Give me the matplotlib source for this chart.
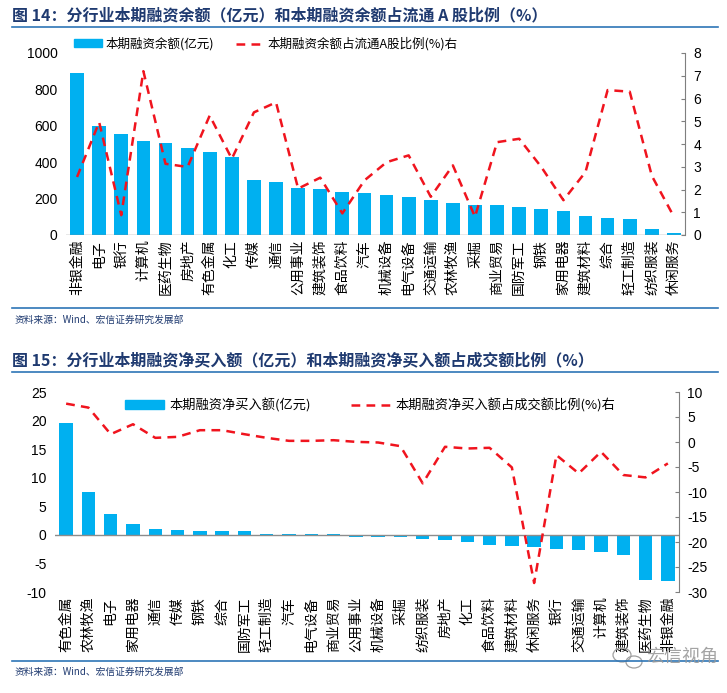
import numpy as np
import matplotlib
matplotlib.use('Agg')
import matplotlib.pyplot as plt
from matplotlib.patches import Patch, Ellipse
from matplotlib.lines import Line2D

plt.rcParams['font.family'] = ['Noto Sans CJK SC', 'DejaVu Sans']
plt.rcParams['axes.unicode_minus'] = False

# ------------------------------------------------------------------
# figure 14 data
cats1 = ['非银金融', '电子', '银行', '计算机', '医药生物', '房地产', '有色金属', '化工',
         '传媒', '通信', '公用事业', '建筑装饰', '食品饮料', '汽车', '机械设备', '电气设备',
         '交通运输', '农林牧渔', '采掘', '商业贸易', '国防军工', '钢铁', '家用电器',
         '建筑材料', '综合', '轻工制造', '纺织服装', '休闲服务']
bal1 = [892, 599, 555, 516, 505, 478, 456, 429, 302, 291, 258, 253, 236, 231,
        220, 209, 192, 176, 165, 165, 154, 143, 132, 104, 93, 88, 33, 11]
pct1 = [2.55, 4.96, 0.87, 7.2, 3.13, 2.99, 5.25, 3.35, 5.39, 5.83, 2.04, 2.52, 0.95, 2.4,
        3.2, 3.5, 1.68, 3.06, 0.8, 4.08, 4.23, 2.99, 1.53, 2.77, 6.37, 6.3, 2.6, 0.8]

# figure 15 data
cats2 = ['有色金属', '农林牧渔', '电子', '家用电器', '通信', '传媒', '钢铁', '综合',
         '国防军工', '轻工制造', '汽车', '电气设备', '商业贸易', '公用事业', '机械设备',
         '采掘', '纺织服装', '房地产', '化工', '食品饮料', '建筑材料', '休闲服务', '银行',
         '交通运输', '计算机', '建筑装饰', '医药生物', '非银金融']
buy2 = [19.6, 7.5, 3.66, 1.92, 1.05, 0.87, 0.7, 0.7, 0.7, 0.2, 0.2, 0.18, 0.18, -0.3,
        -0.3, -0.35, -0.64, -0.87, -1.2, -1.7, -2.0, -2.2, -2.4, -2.7, -3.05, -3.6, -7.97, -8.14]
pct2 = [7.67, 6.88, 1.56, 3.55, 0.83, 1.03, 2.36, 2.36, 1.56, 0.83, 0.23, 0.23, 0.36, 0.03,
        -0.1, -0.83, -8.27, -0.96, -1.3, -1.16, -5.08, -28.2, -2.62, -6.28, -1.96, -6.6,
        -7.08, -4.28]

title1 = '图 14：分行业本期融资余额（亿元）和本期融资余额占流通 A 股比例（%）'
title2 = '图 15：分行业本期融资净买入额（亿元）和本期融资净买入额占成交额比例（%）'
leg1 = ['本期融资余额(亿元)', '本期融资余额占流通A股比例(%)右']
leg2 = ['本期融资净买入额(亿元)', '本期融资净买入额占成交额比例(%)右']
source = '资料来源：Wind、宏信证券研究发展部'
mark = '宏信视角'

# ------------------------------------------------------------------
W, H = 727.0, 693.0
BLUE = '#00B0F0'
RED = '#F0141E'
TCOL = '#1F3A70'
LCOL = '#2E75B6'
NUMFONT = ['Liberation Sans', 'Noto Sans CJK SC']

fig = plt.figure(figsize=(W / 100, H / 100), dpi=100)


def fx(px):
  return px / W


def fy(py):
  return 1 - py / H


def header(ytxt, yline, text):
  fig.text(fx(12), fy(ytxt), text, fontsize=11.5, fontweight='bold', color=TCOL,
           va='center', ha='left')
  fig.add_artist(Line2D([fx(12), fx(718)], [fy(yline), fy(yline)], color=LCOL, lw=1.2))


def footer(yline, ytxt):
  fig.add_artist(Line2D([fx(12), fx(718)], [fy(yline), fy(yline)], color=LCOL, lw=1.2))
  fig.text(fx(15), fy(ytxt), source, fontsize=7, color=TCOL, va='center', ha='left')


def style_axes(ax, ax2):
  for s in ['top', 'left', 'right', 'bottom']:
    ax.spines[s].set_visible(False)
  for s in ['top', 'left', 'bottom']:
    ax2.spines[s].set_visible(False)
  ax2.spines['right'].set_color('#7F7F7F')
  ax2.spines['right'].set_linewidth(0.8)
  ax.tick_params(axis='y', length=0, labelsize=10, pad=6)
  ax.tick_params(axis='x', length=0, labelsize=10)
  ax2.tick_params(axis='y', direction='in', length=3, color='#7F7F7F', labelsize=10, pad=6)
  for lab in ax.get_yticklabels() + ax2.get_yticklabels():
    lab.set_family(NUMFONT)


# ------------------------------------------------------------------
# figure 14
header(15, 27, title1)

x1 = np.arange(len(cats1))
ax1 = fig.add_axes([fx(66), fy(235), fx(685) - fx(66), (235 - 53) / H])
ax1.bar(x1, bal1, width=0.62, color=BLUE, zorder=2)
ax1.axhline(0, color='#8C8C8C', lw=1.0, zorder=3)
ax1.set_xlim(-0.5, len(cats1) - 0.5)
ax1.set_ylim(0, 1000)
ax1.set_yticks(range(0, 1001, 200))
ax1.set_xticks(x1)
ax1.set_xticklabels(cats1, rotation=90, va='top', ha='center')
ax1b = ax1.twinx()
ax1b.plot(x1, pct1, color=RED, lw=1.8, dashes=(3.5, 2.5), zorder=4)
ax1b.set_ylim(0, 8)
ax1b.set_yticks(range(0, 9))
style_axes(ax1, ax1b)

h1 = [Patch(color=BLUE), Line2D([0], [0], color=RED, lw=1.8, dashes=(3.5, 2.5))]
ax1b.legend(h1, leg1, ncol=2, frameon=False, fontsize=9, loc='center',
            bbox_to_anchor=(fx(266), fy(44)), bbox_transform=fig.transFigure,
            handlelength=2.2, handleheight=0.6, handletextpad=0.3, columnspacing=1.8)

footer(308, 320)

# ------------------------------------------------------------------
# figure 15
header(360, 372, title2)

x2 = np.arange(len(cats2))
ax2 = fig.add_axes([fx(55), fy(592), fx(679) - fx(55), (592 - 392) / H])
ax2.bar(x2, buy2, width=0.6, color=BLUE, zorder=2)
ax2.axhline(0, color='#8C8C8C', lw=1.0, zorder=3)
ax2.set_xlim(-0.5, len(cats2) - 0.5)
ax2.set_ylim(-10, 25)
ax2.set_yticks(range(-10, 26, 5))
ax2.set_xticks(x2)
ax2.set_xticklabels(cats2, rotation=90, va='top', ha='center')
ax2b = ax2.twinx()
ax2b.plot(x2, pct2, color=RED, lw=1.8, dashes=(3.5, 2.5), zorder=4)
ax2b.set_ylim(-30, 10)
ax2b.set_yticks(range(-30, 11, 5))
style_axes(ax2, ax2b)

h2 = [Patch(color=BLUE), Line2D([0], [0], color=RED, lw=1.8, dashes=(3.5, 2.5))]
ax2b.legend(h2, leg2, ncol=2, frameon=False, fontsize=9.5, loc='center',
            bbox_to_anchor=(fx(370), fy(405)), bbox_transform=fig.transFigure,
            handlelength=3.0, handleheight=0.6, handletextpad=0.4, columnspacing=3.0)

footer(661, 672)

# watermark (wechat-style logo + account name)
fig.add_artist(Ellipse((fx(622), fy(655)), fx(18), 14 / H, fill=False, ec='#A0A0A0', lw=0.9))
fig.add_artist(Ellipse((fx(634), fy(662)), fx(16), 12 / H, fill=False, ec='#A0A0A0', lw=0.9))
fig.text(fx(646), fy(657), mark, fontsize=13, color='#9A9A9A', va='center', ha='left',
         alpha=0.9)

fig.savefig('out.png', dpi=100)
